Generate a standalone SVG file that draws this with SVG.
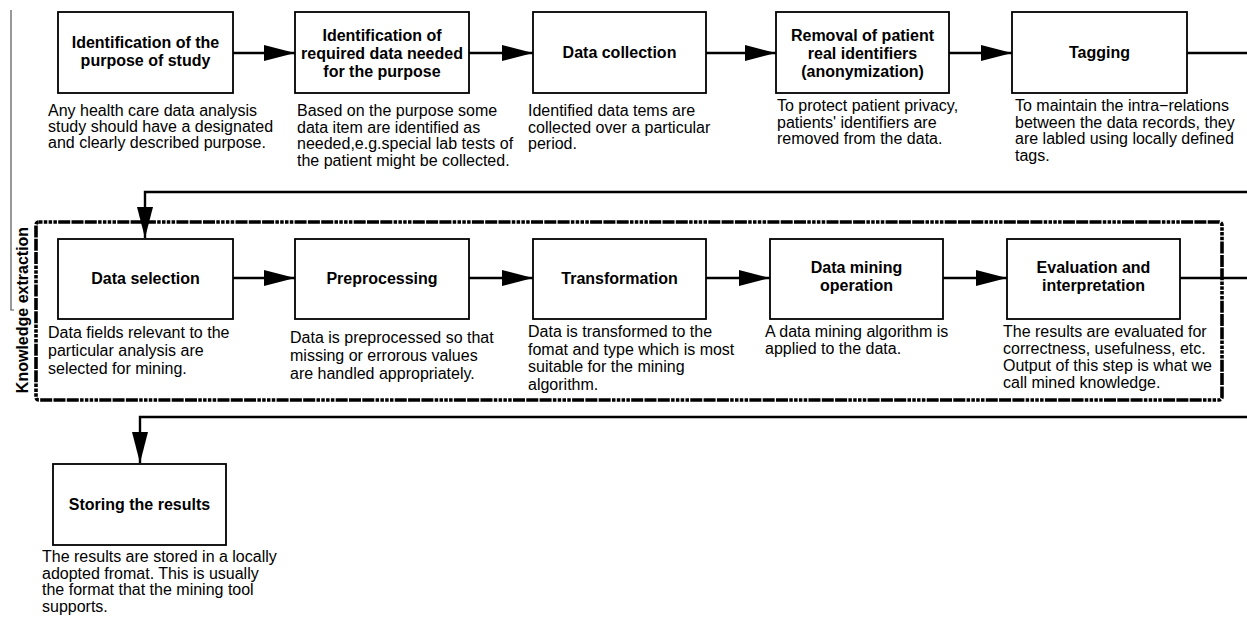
<svg xmlns="http://www.w3.org/2000/svg" width="1247" height="617" viewBox="0 0 1247 617">
  <style>
    .box { fill: #fff; stroke: #000; stroke-width: 1.8; }
    .title { font-family: "Liberation Sans", Arial, sans-serif; font-size: 16px; font-weight: bold; text-anchor: middle; fill: #000; }
    .desc { font-family: "Liberation Sans", Arial, sans-serif; font-size: 16px; fill: #000; }
    .conn { fill: none; stroke: #000; stroke-width: 2.4; }
    .frame { fill: none; stroke: #000; stroke-width: 3.6; stroke-dasharray: 3.5 1.3 3.5 1.3 3.5 1.3 3.5 1.3 12 1.3 12 1.3 12 1.3; stroke-linejoin: round; }
  </style>
  <defs>
    <marker id="arrow" viewBox="0 0 31 16" refX="31" refY="8" markerWidth="31" markerHeight="16" markerUnits="userSpaceOnUse" orient="auto">
      <path d="M0,0 L31,8 L0,16 z" fill="#000"/>
    </marker>
  </defs>
  <rect width="1247" height="617" fill="#fff"/>

  <!-- side rule and stage label -->
  <g id="knowledge-extraction-label">
    <path d="M11,10 V310 H14" fill="none" stroke="#555" stroke-width="1.2"/>
    <text class="title" transform="translate(28,310) rotate(-90)">Knowledge extraction</text>
  </g>

  <!-- dash-dot frame around the mining stage -->
  <g id="knowledge-extraction-frame">
    <rect class="frame" x="36" y="222" width="1186" height="178" rx="3"/>
  </g>

  <!-- connectors -->
  <g id="connectors">
    <line class="conn" x1="233" y1="53" x2="295" y2="53" marker-end="url(#arrow)"/>
    <line class="conn" x1="469" y1="53" x2="533" y2="53" marker-end="url(#arrow)"/>
    <line class="conn" x1="706" y1="53" x2="776" y2="53" marker-end="url(#arrow)"/>
    <line class="conn" x1="949" y1="53" x2="1012" y2="53" marker-end="url(#arrow)"/>
    <line class="conn" x1="1187" y1="53" x2="1247" y2="53"/>
    <path class="conn" d="M1247,192 H145 V238" marker-end="url(#arrow)"/>
    <line class="conn" x1="233" y1="278" x2="295" y2="278" marker-end="url(#arrow)"/>
    <line class="conn" x1="469" y1="278" x2="533" y2="278" marker-end="url(#arrow)"/>
    <line class="conn" x1="706" y1="278" x2="770" y2="278" marker-end="url(#arrow)"/>
    <line class="conn" x1="943" y1="278" x2="1007" y2="278" marker-end="url(#arrow)"/>
    <line class="conn" x1="1180" y1="278" x2="1247" y2="278"/>
    <path class="conn" d="M1247,417 H140 V463" marker-end="url(#arrow)"/>
  </g>

  <!-- first row -->
  <g id="purpose">
    <rect class="box" x="58" y="12" width="175" height="81"/>
    <text class="title" x="145.5" y="48">Identification of the</text>
    <text class="title" x="145.5" y="66">purpose of study</text>
    <text class="desc" x="48" y="116">Any health care data analysis</text>
    <text class="desc" x="48" y="132">study should have a designated</text>
    <text class="desc" x="48" y="148">and clearly described purpose.</text>
  </g>
  <g id="required-data">
    <rect class="box" x="295" y="12" width="174" height="81"/>
    <text class="title" x="382" y="41">Identification of</text>
    <text class="title" x="382" y="59">required data needed</text>
    <text class="title" x="382" y="77">for the purpose</text>
    <text class="desc" x="297" y="116">Based on the purpose some</text>
    <text class="desc" x="297" y="132.5">data item are identified as</text>
    <text class="desc" x="297" y="149">needed,e.g.special lab tests of</text>
    <text class="desc" x="297" y="165.5">the patient might be collected.</text>
  </g>
  <g id="data-collection">
    <rect class="box" x="533" y="12" width="173" height="81"/>
    <text class="title" x="619.5" y="58">Data collection</text>
    <text class="desc" x="528" y="116">Identified data tems are</text>
    <text class="desc" x="528" y="132.5">collected over a particular</text>
    <text class="desc" x="528" y="149">period.</text>
  </g>
  <g id="anonymization">
    <rect class="box" x="776" y="12" width="173" height="81"/>
    <text class="title" x="862.5" y="41">Removal of patient</text>
    <text class="title" x="862.5" y="59">real identifiers</text>
    <text class="title" x="862.5" y="77">(anonymization)</text>
    <text class="desc" x="777" y="111">To protect patient privacy,</text>
    <text class="desc" x="777" y="127.5">patients' identifiers are</text>
    <text class="desc" x="777" y="144">removed from the data.</text>
  </g>
  <g id="tagging">
    <rect class="box" x="1012" y="12" width="175" height="81"/>
    <text class="title" x="1099.5" y="58">Tagging</text>
    <text class="desc" x="1015" y="111">To maintain the intra−relations</text>
    <text class="desc" x="1015" y="127.5">between the data records, they</text>
    <text class="desc" x="1015" y="144">are labled using locally defined</text>
    <text class="desc" x="1015" y="160.5">tags.</text>
  </g>

  <!-- second row -->
  <g id="data-selection">
    <rect class="box" x="58" y="239" width="175" height="80"/>
    <text class="title" x="145.5" y="284">Data selection</text>
    <text class="desc" x="48" y="338">Data fields relevant to the</text>
    <text class="desc" x="48" y="356">particular analysis are</text>
    <text class="desc" x="48" y="374">selected for mining.</text>
  </g>
  <g id="preprocessing">
    <rect class="box" x="295" y="239" width="174" height="80"/>
    <text class="title" x="382" y="284">Preprocessing</text>
    <text class="desc" x="290" y="343">Data is preprocessed so that</text>
    <text class="desc" x="290" y="361">missing or errorous values</text>
    <text class="desc" x="290" y="379">are handled appropriately.</text>
  </g>
  <g id="transformation">
    <rect class="box" x="533" y="239" width="173" height="80"/>
    <text class="title" x="619.5" y="284">Transformation</text>
    <text class="desc" x="528" y="337">Data is transformed to the</text>
    <text class="desc" x="528" y="354.5">fomat and type which is most</text>
    <text class="desc" x="528" y="372">suitable for the mining</text>
    <text class="desc" x="528" y="389.5">algorithm.</text>
  </g>
  <g id="data-mining">
    <rect class="box" x="770" y="239" width="173" height="80"/>
    <text class="title" x="856.5" y="273">Data mining</text>
    <text class="title" x="856.5" y="291">operation</text>
    <text class="desc" x="765" y="337">A data mining algorithm is</text>
    <text class="desc" x="765" y="353.5">applied to the data.</text>
  </g>
  <g id="evaluation">
    <rect class="box" x="1007" y="239" width="173" height="80"/>
    <text class="title" x="1093.5" y="273">Evaluation and</text>
    <text class="title" x="1093.5" y="291">interpretation</text>
    <text class="desc" x="1003" y="337">The results are evaluated for</text>
    <text class="desc" x="1003" y="354">correctness, usefulness, etc.</text>
    <text class="desc" x="1003" y="371">Output of this step is what we</text>
    <text class="desc" x="1003" y="388">call mined knowledge.</text>
  </g>

  <!-- third row -->
  <g id="storing-results">
    <rect class="box" x="53" y="464" width="173" height="81"/>
    <text class="title" x="139.5" y="510">Storing the results</text>
    <text class="desc" x="42" y="562">The results are stored in a locally</text>
    <text class="desc" x="42" y="578.5">adopted fromat. This is usually</text>
    <text class="desc" x="42" y="595">the format that the mining tool</text>
    <text class="desc" x="42" y="611.5">supports.</text>
  </g>
</svg>
